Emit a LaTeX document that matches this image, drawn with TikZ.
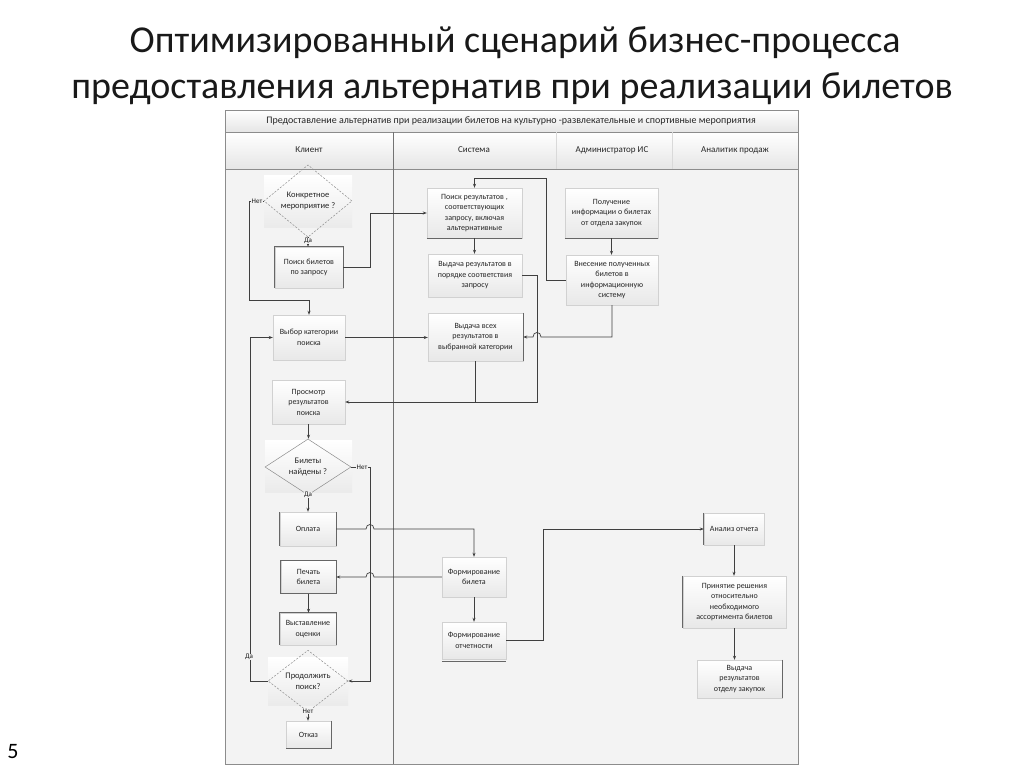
\documentclass[tikz,border=0pt]{standalone}
\usepackage{fontspec}
\setmainfont{Carlito}
\usetikzlibrary{shapes.geometric,arrows.meta}
\definecolor{bodybg}{HTML}{F3F3F3}
\definecolor{lncol}{HTML}{3F3F3F}
\begin{document}
\begin{tikzpicture}[x=1pt,y=-1pt,
  box/.style={rectangle,inner sep=1pt,align=center,top color=white,bottom color=black!9,draw=black!18,line width=0.4pt,font=\fontsize{8}{10.5}\selectfont,text=black!85},
  dia/.style={diamond,inner sep=0pt,align=center,draw=black!45,line width=0.5pt,font=\fontsize{8.5}{11}\selectfont,text=black!85},
  dashdia/.style={dia,dash pattern=on 2pt off 1.5pt},
  diabg/.style={top color=white,bottom color=black!8},
  edge/.style={draw=black!60,line width=0.8pt},
  conn/.style={draw=lncol,line width=0.7pt,-{Stealth[length=4pt,width=3pt]}},
  line/.style={draw=lncol,line width=0.7pt},
  lbl/.style={font=\fontsize{7}{8}\selectfont,fill=bodybg,inner sep=0.5pt,text=black!90},
  hdr/.style={font=\fontsize{9}{10}\selectfont,text=black!85},
  ttl/.style={font=\fontsize{38}{46}\selectfont,text=black!90}
]
\useasboundingbox[fill=white] (0,0) rectangle (1024,768);

% title
\node[ttl] (t1) at (515,43) {Оптимизированный сценарий бизнес-процесса};
\node[ttl] (t2) at (512,89) {предоставления альтернатив при реализации билетов};
\node[font=\fontsize{22}{26}\selectfont] (pg) at (13,752) {5};

% pool
\fill[bodybg] (225,169) rectangle (798,764);
\fill[top color=white,bottom color=black!10] (225,110) rectangle (798,132);
\fill[top color=white,bottom color=black!10] (225,132) rectangle (798,169);
\draw[black!45,line width=0.6pt] (225,110) rectangle (798,764);
\draw[black!45,line width=0.6pt] (225,132) -- (798,132);
\draw[black!45,line width=0.6pt] (225,169) -- (798,169);
\draw[black!55,line width=0.7pt] (393,132) -- (393,764);
\draw[black!15,line width=0.5pt] (556,132) -- (556,169);
\draw[black!15,line width=0.5pt] (672,132) -- (672,169);
\node[font=\fontsize{10}{11}\selectfont,text=black!85] (ph) at (511,121) {Предоставление альтернатив при реализации билетов на культурно -развлекательные и спортивные мероприятия};
\node[hdr] (h1) at (309,150) {Клиент};
\node[hdr] (h2) at (474,150) {Система};
\node[hdr] (h3) at (612,150) {Администратор ИС};
\node[hdr] (h4) at (735,150) {Аналитик продаж};

% diamond backgrounds
\fill[diabg] (264,175) rectangle (352,227);
\fill[diabg] (265,440) rectangle (352,492);
\fill[diabg] (268,657) rectangle (348,705);

% client lane
\node[dashdia,minimum width=88pt,minimum height=52pt] (kon) at (308,201) {Конкретное\\мероприятие ?};
\node[box,minimum width=68pt,minimum height=41pt] (pb) at (309,267.5) {Поиск билетов\\по запросу};
\node[box,minimum width=72pt,minimum height=45pt] (vk) at (309,337.5) {Выбор категории\\поиска};
\node[box,minimum width=73pt,minimum height=44pt] (pr) at (308.5,402) {Просмотр\\результатов\\поиска};
\node[dia,minimum width=86pt,minimum height=51pt] (bn) at (308,467) {Билеты\\найдены ?};
\node[box,minimum width=56pt,minimum height=34pt] (op) at (308,529) {Оплата};
\node[box,minimum width=55pt,minimum height=33pt] (pe) at (308.5,577) {Печать\\билета};
\node[box,minimum width=56pt,minimum height=32pt] (vo) at (308,629) {Выставление\\оценки};
\node[dashdia,minimum width=80pt,minimum height=48pt] (pp) at (308,681) {Продолжить\\поиск?};
\node[box,minimum width=45pt,minimum height=27pt] (ot) at (308.5,734.5) {Отказ};

% system lane
\node[box,minimum width=95pt,minimum height=50pt] (prz) at (474.5,213) {Поиск результатов ,\\соответствующих\\запросу, включая\\альтернативные};
\node[box,minimum width=94pt,minimum height=43pt] (vr) at (475,275.5) {Выдача результатов в\\порядке соответствия\\запросу};
\node[box,minimum width=95pt,minimum height=48pt] (vv) at (475.5,337) {Выдача всех\\результатов в\\выбранной категории};
\node[box,minimum width=64pt,minimum height=40pt] (fb) at (474,577) {Формирование\\билета};
\node[box,minimum width=64pt,minimum height=37pt] (fo) at (474,640.5) {Формирование\\отчетности};

% admin lane
\node[box,minimum width=93pt,minimum height=50pt] (pi) at (611.5,213) {Получение\\информации о билетах\\от отдела закупок};
\node[box,minimum width=92pt,minimum height=50pt] (vn) at (612,280) {Внесение полученных\\билетов в\\информационную\\систему};

% analyst lane
\node[box,minimum width=60pt,minimum height=32pt] (ao) at (734,529) {Анализ отчета};
\node[box,minimum width=103pt,minimum height=52pt] (prn) at (734.5,602) {Принятие решения\\относительно\\необходимого\\ассортимента билетов};
\node[box,minimum width=85pt,minimum height=38pt] (vz) at (739.5,679) {Выдача\\результатов\\отделу закупок};

% darker box edges
\draw[edge] (pb.south west) -- (pb.north west) -- (pb.north east) -- (pb.south east);
\draw[edge] (op.west) ++(0,-17) -- ++(0,34);
\draw[edge] (op.east) ++(0,-17) -- ++(0,34);
\draw[edge] (pe.south west) rectangle (pe.north east);
\draw[edge] (vo.south west) -- (vo.north west) -- (vo.north east) -- (vo.south east);
\draw[edge] (ot.north east) -- (ot.south east) -- (ot.south west);
\draw[edge] (prz.south west) -- (prz.south east);
\draw[edge] (vv.north east) -- (vv.south east);
\draw[edge] (pi.south west) -- (pi.south east);
\draw[edge] (fo.south west) ++(0,2) -- ++(64,0);
\draw[edge] (ao.north west) -- (ao.south west);
\draw[edge] (prn.north west) -- (prn.south west);
\draw[edge] (vz.north east) -- (vz.south east);

% connectors
\draw[conn] (kon.south) -- node[lbl,pos=0.4] (l1) {Да} (kon.south |- pb.north);
\draw[conn] (kon.west) -- (249,201) |- (309,300) -- (vk.north);
\node[lbl] (l2) at (257,201) {Нет};
\draw[conn] (pb.east) -| (370,213) -- (prz.west);
\draw[conn] (vk.east) -- (vk.east -| vv.west);
\draw[conn] (pr.south) -- (pr.south |- bn.north);
\draw[conn] (bn.south) -- (bn.south |- op.north);
\node[lbl] (l3) at (308,495) {Да};
\draw[conn] (bn.east) -- (370,467) -- (370,681) -- (pp.east);
\node[lbl] (l4) at (362,467) {Нет};
\draw[conn] (op.east) -- (366,529) .. controls (366,523) and (374,523) .. (374,529) -| (fb.north);
\draw[conn] (fb.west) -- (374,577) .. controls (374,571) and (366,571) .. (366,577) -- (pe.east);
\draw[conn] (pe.south) -- (pe.south |- vo.north);
\draw[conn] (pp.west) -- (250,681) |- (vk.west);
\node[lbl] (l5) at (249,657) {Да};
\draw[conn] (pp.south) -- (pp.south |- ot.north);
\node[lbl] (l6) at (308,711) {Нет};
\draw[conn] (prz.south) -- (prz.south |- vr.north);
\draw[conn] (vr.east) -| (537,402) -- (pr.east);
\draw[line] (vv.south) -- (vv.south |- pr.east);
\draw[conn] (pi.south) -- (pi.south |- vn.north);
\draw[conn] (vn.south) |- (541,337) .. controls (541,331) and (533,331) .. (533,337) -- (vv.east);
\draw[conn] (vn.west) -| (546,178) -| (prz.north);
\draw[conn] (fb.south) -- (fb.south |- fo.north);
\draw[conn] (fo.east) -| (543,529) -- (ao.west);
\draw[conn] (ao.south) -- (ao.south |- prn.north);
\draw[conn] (prn.south) -- (prn.south |- vz.north);
\end{tikzpicture}
\end{document}
